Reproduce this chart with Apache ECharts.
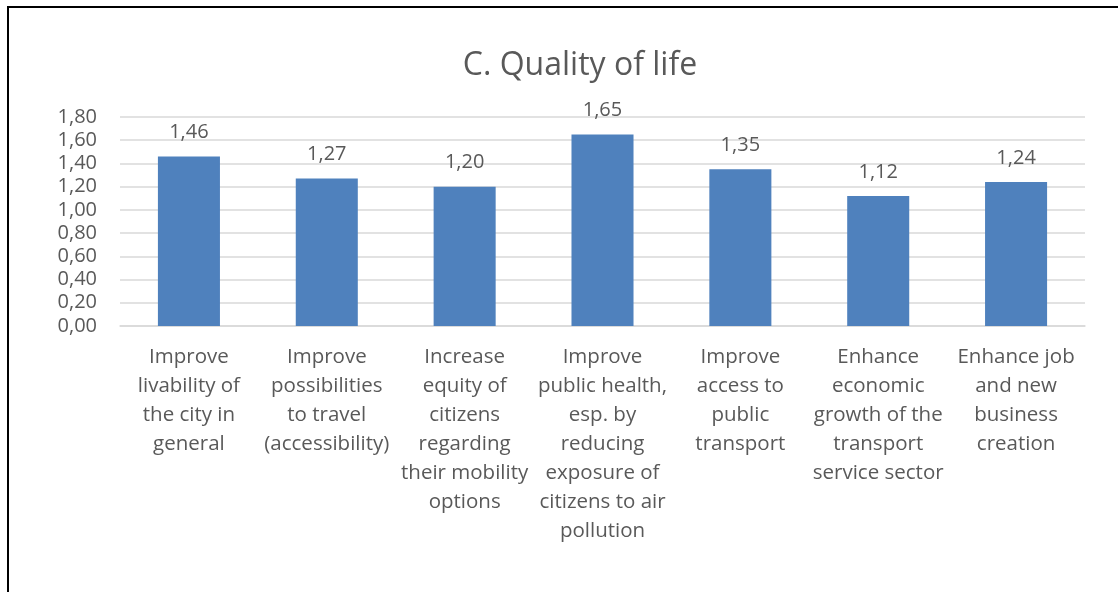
<!DOCTYPE html>
<html>
<head>
<meta charset="utf-8">
<style>
  html, body { margin: 0; padding: 0; background: #fff; }
  #chart { width: 1118px; height: 592px; }
</style>
<script src="https://cdn.jsdelivr.net/npm/echarts@6/dist/echarts.min.js"></script>
</head>
<body>
<div id="chart"></div>
<script>
const categories = [
  "Improve\nlivability of\nthe city in\ngeneral",
  "Improve\npossibilities\nto travel\n(accessibility)",
  "Increase\nequity of\ncitizens\nregarding\ntheir mobility\noptions",
  "Improve\npublic health,\nesp. by\nreducing\nexposure of\ncitizens to air\npollution",
  "Improve\naccess to\npublic\ntransport",
  "Enhance\neconomic\ngrowth of the\ntransport\nservice sector",
  "Enhance job\nand new\nbusiness\ncreation"
];
const values = [1.46, 1.27, 1.20, 1.65, 1.35, 1.12, 1.24];

const fontFamily = "'Open Sans', sans-serif";
const textColor = "#595959";

function fmt(v) {
  return Number(v).toFixed(2).replace(".", ",");
}

const chart = echarts.init(document.getElementById("chart"));

chart.setOption({
  animation: false,
  title: {
    text: "C. Quality of life",
    left: 575,
    top: 45,
    textAlign: "center",
    textStyle: {
      fontFamily: fontFamily,
      fontSize: 32,
      fontWeight: "normal",
      color: textColor
    }
  },
  grid: {
    left: 120,
    right: 33,
    top: 117,
    bottom: 266
  },
  xAxis: {
    type: "category",
    data: categories,
    axisTick: { show: false },
    axisLine: { lineStyle: { color: "#d9d9d9", width: 1.5 } },
    axisLabel: {
      interval: 0,
      margin: 17,
      fontFamily: fontFamily,
      fontSize: 20.5,
      lineHeight: 29,
      color: textColor
    }
  },
  yAxis: {
    type: "value",
    min: 0,
    max: 1.8,
    interval: 0.2,
    axisLine: { show: false },
    axisTick: { show: false },
    splitLine: { lineStyle: { color: "#d9d9d9", width: 1.5 } },
    axisLabel: {
      margin: 23,
      fontFamily: fontFamily,
      fontSize: 20,
      color: textColor,
      formatter: fmt
    }
  },
  series: [
    {
      type: "bar",
      data: values,
      barWidth: "45%",
      itemStyle: { color: "#4f81bd" },
      label: {
        show: true,
        position: "top",
        distance: 14,
        fontFamily: fontFamily,
        fontSize: 20,
        color: textColor,
        formatter: function (p) { return fmt(p.value); }
      }
    }
  ],
  graphic: [
    {
      type: "polyline",
      shape: { points: [[8, 592], [8, 7], [1118, 7]] },
      style: { stroke: "#000", lineWidth: 2, fill: null }
    }
  ]
});
</script>
</body>
</html>
